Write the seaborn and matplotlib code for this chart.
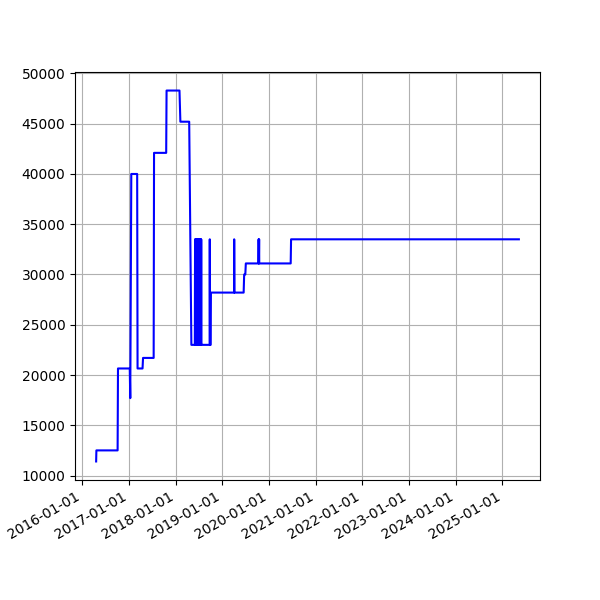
import pandas as pd
import matplotlib
matplotlib.use("Agg")
import matplotlib.pyplot as plt
import matplotlib.dates as mdates
import seaborn as sns

# price history
dates = [
    "2016-04-20", "2016-04-22", "2016-10-05", "2016-10-08",
    "2017-01-08", "2017-01-12", "2017-01-20", "2017-03-07",
    "2017-03-10", "2017-04-18", "2017-04-22", "2017-07-14",
    "2017-07-17", "2017-10-20", "2017-10-23", "2018-02-01",
    "2018-02-08", "2018-04-18", "2018-05-05", "2018-06-01",
    # dense back-and-forth in June/July 2018
    "2018-06-03", "2018-06-05", "2018-06-07", "2018-06-09",
    "2018-06-11", "2018-06-13", "2018-06-15", "2018-06-17",
    "2018-06-19", "2018-06-21", "2018-06-23", "2018-06-25",
    "2018-06-27", "2018-06-29", "2018-07-01", "2018-07-03",
    "2018-07-05", "2018-07-07", "2018-07-09", "2018-07-11",
    "2018-07-13", "2018-07-15", "2018-07-17", "2018-07-19",
    "2018-07-21", "2018-07-23",
    "2018-07-26", "2018-09-25", "2018-09-26", "2018-09-28",
    "2018-10-03", "2018-10-05", "2019-04-04", "2019-04-05",
    "2019-04-07", "2019-06-18", "2019-06-22", "2019-07-01",
    "2019-07-05", "2019-10-12", "2019-10-13", "2019-10-15",
    "2019-10-17", "2019-10-18", "2020-06-20", "2020-06-23",
    "2025-05-10",
]
prices = [
    11400, 12500, 12500, 20650,
    20650, 17700, 40000, 40000,
    20650, 20650, 21700, 21700,
    42100, 42100, 48300, 48300,
    45200, 45200, 23000, 23000,
    33500, 23000, 33500, 23000,
    33500, 23000, 33500, 23000,
    33500, 23000, 33500, 23000,
    33500, 23000, 33500, 23000,
    33500, 23000, 33500, 23000,
    33500, 23000, 33500, 23000,
    33500, 23000,
    23000, 23000, 33500, 23000,
    23000, 28200, 28200, 33500,
    28200, 28200, 30000, 30000,
    31100, 31100, 33500, 31100,
    33500, 31100, 31100, 33500,
    33500,
]

df = pd.DataFrame({"date": pd.to_datetime(dates), "price": prices})

fig, ax = plt.subplots(figsize=(6, 6), dpi=100)
sns.lineplot(data=df, x="date", y="price", color="blue", linewidth=1.5,
             estimator=None, sort=False, ax=ax)
ax.set(xlabel=None, ylabel=None)
ax.xaxis.set_major_locator(mdates.YearLocator())
ax.xaxis.set_major_formatter(mdates.DateFormatter("%Y-%m-%d"))
ax.grid(True)
fig.autofmt_xdate()
fig.savefig("out.png", dpi=100)
